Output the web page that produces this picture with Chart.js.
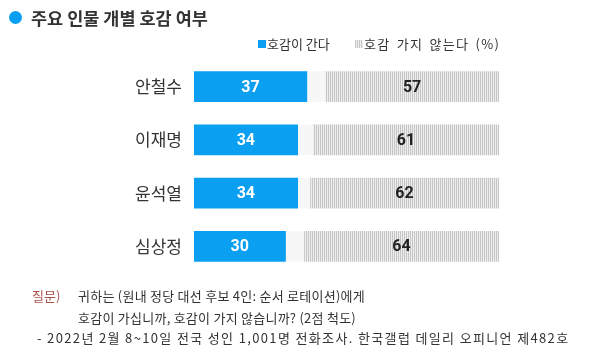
<!DOCTYPE html>
<html><head><meta charset="utf-8">
<script src="https://cdn.jsdelivr.net/npm/chart.js@4"></script>
<style>
html,body{margin:0;padding:0;background:#fff;}
#wrap{position:relative;width:600px;height:359px;overflow:hidden;font-family:"Noto Sans CJK KR","Noto Sans",sans-serif;color:#333;}
canvas{position:absolute;left:0;top:0;}
.t{position:absolute;white-space:nowrap;}
</style></head><body>
<div id="wrap">
<canvas id="c" width="600" height="359"></canvas>
<div class="t" style="left:9px;top:11px;width:13px;height:13px;border-radius:50%;background:#0a9ff0;"></div>
<div class="t" style="left:31px;top:5px;font-size:17.5px;font-weight:bold;color:#333;">주요 인물 개별 호감 여부</div>
<div class="t" style="left:258px;top:40px;width:8px;height:8px;background:#0a9ff0;"></div>
<div class="t" style="left:267px;top:34px;font-size:13px;">호감이 간다</div>
<div class="t" id="lg2" style="left:355px;top:40px;width:8px;height:8px;background:repeating-linear-gradient(90deg,#c6c6c6 0 1px,#eeeeee 1px 2px);"></div>
<div class="t" style="left:364px;top:34px;font-size:13px;letter-spacing:1.3px;word-spacing:2px;">호감 가지 않는다 (%)</div>
<div class="t" style="left:32px;top:286px;font-size:13px;color:#a8504a;">질문)</div>
<div class="t" style="left:78px;top:286px;font-size:13px;letter-spacing:0.25px;">귀하는 (원내 정당 대선 후보 4인: 순서 로테이션)에게</div>
<div class="t" style="left:78px;top:308px;font-size:13px;letter-spacing:0.25px;">호감이 가십니까, 호감이 가지 않습니까? (2점 척도)</div>
<div class="t" style="left:37px;top:328px;font-size:13px;letter-spacing:1.35px;">- 2022년 2월 8~10일 전국 성인 1,001명 전화조사. 한국갤럽 데일리 오피니언 제482호</div>
</div>
<script>
const categories = ["안철수","이재명","윤석열","심상정"];
const favorable = [37,34,34,30];
const undecided = [6,5,4,6];
const unfavorable = [57,61,62,64];

function stripe(){
  const p=document.createElement('canvas');p.width=2;p.height=1;
  const g=p.getContext('2d');
  g.fillStyle='#eeeeee';g.fillRect(0,0,2,1);
  g.fillStyle='#c6c6c6';g.fillRect(0,0,1,1);
  return document.getElementById('c').getContext('2d').createPattern(p,'repeat');
}

const labelPlugin={
  id:'vals',
  afterDatasetsDraw(chart){
    const ctx=chart.ctx;
    ctx.save();
    ctx.textAlign='center';ctx.textBaseline='middle';
    [[0,'#ffffff'],[2,'#222222']].forEach(([di,col])=>{
      const meta=chart.getDatasetMeta(di);
      meta.data.forEach((el,i)=>{
        const v=chart.data.datasets[di].data[i];
        const x=(el.x+el.base)/2;
        ctx.fillStyle=col;
        ctx.font='bold 16px Roboto, "Noto Sans", sans-serif';
        ctx.fillText(String(v),x,el.y+1);
      });
    });
    ctx.restore();
  }
};

new Chart(document.getElementById('c'),{
  type:'bar',
  data:{labels:categories,datasets:[
    {data:favorable,backgroundColor:'#0a9ff0'},
    {data:undecided,backgroundColor:'#f7f7f7'},
    {data:unfavorable,backgroundColor:stripe()}
  ]},
  options:{
    indexAxis:'y',responsive:false,animation:false,
    layout:{padding:{top:60,bottom:86,right:101,left:0}},
    plugins:{legend:{display:false},tooltip:{enabled:false}},
    datasets:{bar:{barThickness:30}},
    scales:{
      x:{stacked:true,min:0,max:100,display:false},
      y:{stacked:true,grid:{display:false,drawTicks:false},border:{display:false},
        afterFit(s){s.width=194;},
        ticks:{padding:12,color:'#333',font:{size:17,family:'"Noto Sans CJK KR", sans-serif'}}}
    }
  },
  plugins:[labelPlugin]
});
</script>
</body></html>
